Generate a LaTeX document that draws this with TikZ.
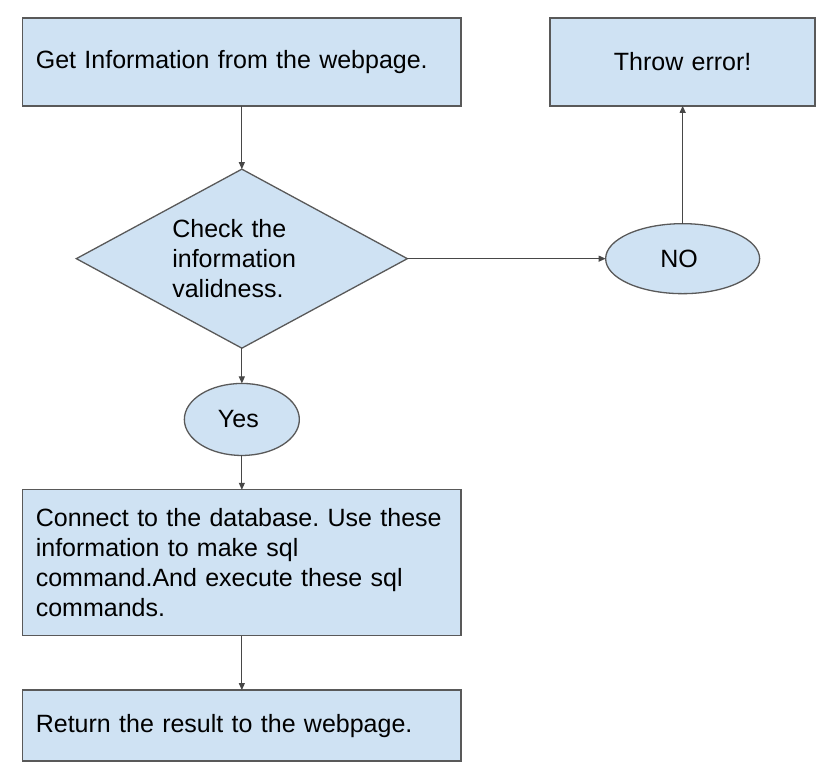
\documentclass[tikz,border=0pt]{standalone}
\usepackage{fontspec}
\setmainfont{Liberation Sans}
\frenchspacing
\usepackage{tikz}
\usetikzlibrary{matrix,shapes.geometric,arrows.meta}
\definecolor{boxfill}{HTML}{CFE2F3}
\definecolor{boxline}{HTML}{595959}
\definecolor{arrowline}{HTML}{474747}
\tikzset{
  procbox/.style={rectangle, draw=boxline, fill=boxfill, line width=1.3pt,
    minimum width=438pt, minimum height=88pt, inner xsep=13pt,
    text width=412pt, align=left},
  decision/.style={diamond, draw=boxline, fill=boxfill, line width=1.3pt,
    aspect=1.85, minimum width=331pt, minimum height=179pt,
    text width=139pt, align=left},
  answer/.style={ellipse, draw=boxline, fill=boxfill, line width=1.3pt,
    minimum width=115pt, minimum height=72pt, align=center},
  flowarrow/.style={-{Triangle[length=7pt,width=6pt]}, draw=arrowline, line width=1pt}
}
\begin{document}
\begin{tikzpicture}
     \useasboundingbox (0pt,0pt) rectangle (828pt,-772pt);
     \matrix (flow) [%
       matrix of nodes, anchor=north west, inner sep=0pt,
       row sep=0pt, column sep=88pt,
       nodes={anchor=center, outer sep=0pt, font=\fontsize{25}{30}\selectfont}
     ] at (22pt,-17pt)
      {%
        |[procbox]| Get Information from the webpage. &
          |[procbox, minimum width=265pt, text width=239pt, align=center]| Throw error! \\[62pt]
        |[decision]| {Check the\\information\\validness.} &
          |[answer, minimum width=154pt, minimum height=70pt]| NO \\[34pt]
        |[answer]| Yes \\[33pt]
        |[procbox, minimum height=146pt]| {Connect to the database. Use these\\information to make sql\\command.And execute these sql\\commands.} \\[53pt]
        |[procbox, minimum height=71pt]| Return the result to the webpage. \\
      };
    % connect the steps
      \draw[flowarrow] (flow-1-1) -- (flow-2-1);
      \draw[flowarrow] (flow-2-1) -- (flow-2-2);
      \draw[flowarrow] (flow-2-2) -- (flow-1-2);
      \draw[flowarrow] (flow-2-1) -- (flow-3-1);
      \draw[flowarrow] (flow-3-1) -- (flow-4-1);
      \draw[flowarrow] (flow-4-1) -- (flow-5-1);
  \end{tikzpicture}
\end{document}
